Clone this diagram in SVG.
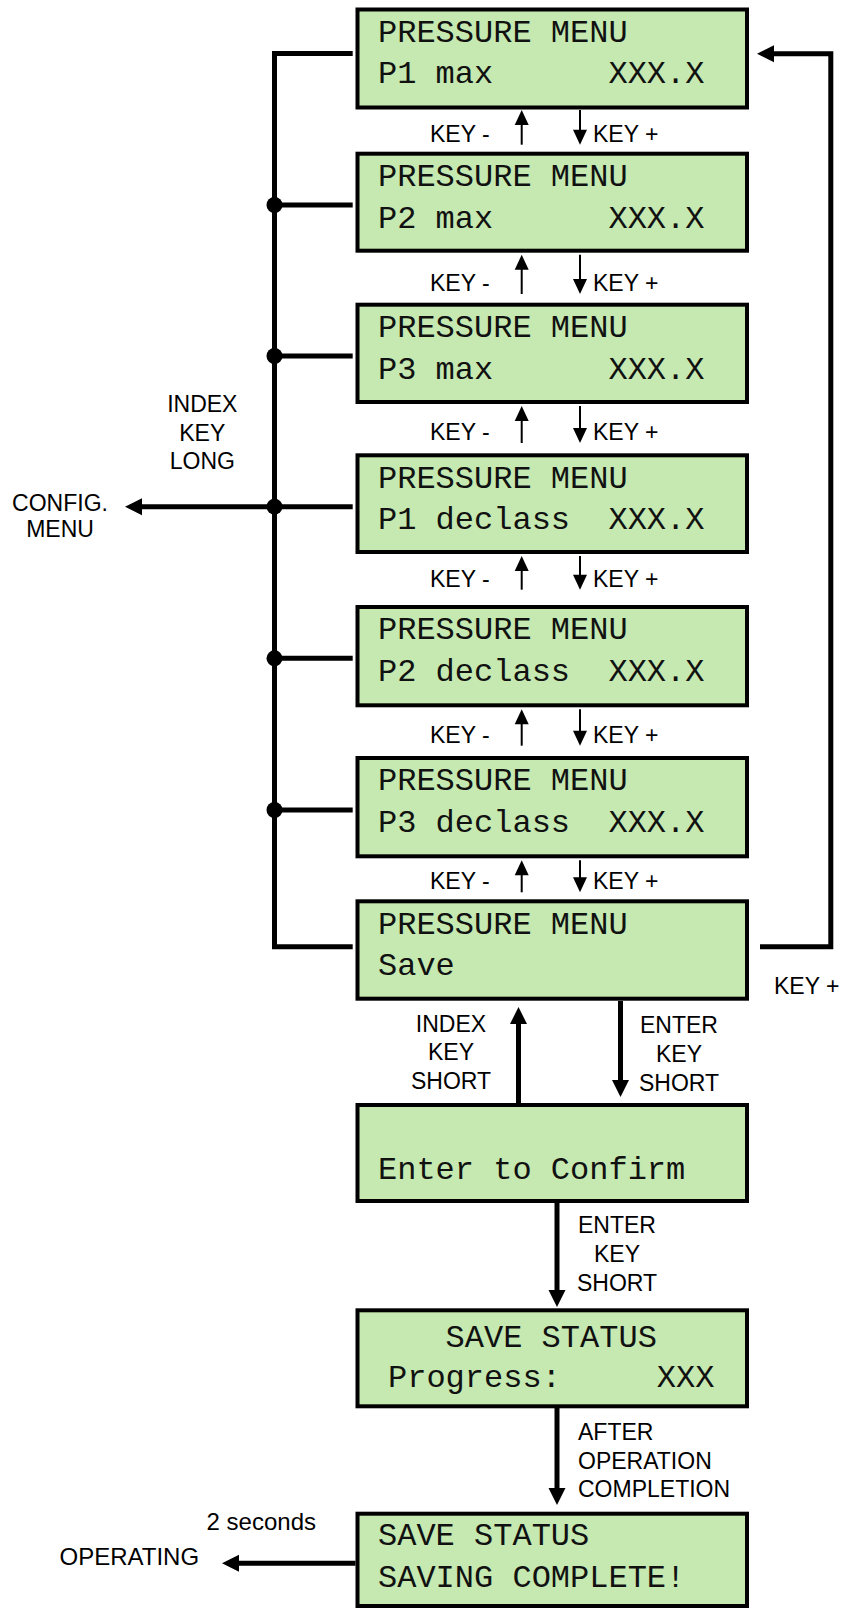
<svg xmlns="http://www.w3.org/2000/svg" width="844" height="1610" viewBox="0 0 844 1610" xml:space="preserve">
<style>
.box{fill:#C5E9B0;stroke:#000;stroke-width:4}
.lcd{font-family:"Liberation Mono","Courier New",monospace;font-size:32px;fill:#111;white-space:pre}
.lbl{font-family:"Liberation Sans",Arial,sans-serif;font-size:23px;fill:#000}
.big{font-size:24px}
.mid{text-anchor:middle}
.thick{stroke:#000;stroke-width:5;fill:none;stroke-linejoin:miter}
.thin{stroke:#000;stroke-width:2;fill:none}
.dot{fill:#000}
</style>
<defs>
<marker id="sm" markerUnits="userSpaceOnUse" markerWidth="16" markerHeight="16" refX="1" refY="7" orient="auto" overflow="visible"><path d="M0,0 L15,7 L0,14 z" fill="#000"/></marker>
<marker id="lg" markerUnits="userSpaceOnUse" markerWidth="20" markerHeight="20" refX="1" refY="8.5" orient="auto" overflow="visible"><path d="M0,0 L17,8.5 L0,17 z" fill="#000"/></marker>
</defs>
<rect width="844" height="1610" fill="#fff"/>

<g id="connectors">
<path class="thick" d="M352.7,53.5 H274.5 V946.7 H352.7"/>
<path class="thick" d="M274.5,205 H352.7 M274.5,356 H352.7 M274.5,658.3 H352.7 M274.5,810 H352.7"/>
<path class="thick" d="M352.7,506.7 H141" marker-end="url(#lg)"/>
<circle class="dot" cx="274.5" cy="205" r="8"/>
<circle class="dot" cx="274.5" cy="356" r="8"/>
<circle class="dot" cx="274.5" cy="506.7" r="8"/>
<circle class="dot" cx="274.5" cy="658.3" r="8"/>
<circle class="dot" cx="274.5" cy="810" r="8"/>
<path class="thick" d="M760,946.7 H830.8 V53.8 H773" marker-end="url(#lg)"/>

<path class="thin" d="M521.7,144.7 V124" marker-end="url(#sm)"/>
<path class="thin" d="M580,110 V130.7" marker-end="url(#sm)"/>
<path class="thin" d="M521.7,294 V268.7" marker-end="url(#sm)"/>
<path class="thin" d="M580,254.7 V280" marker-end="url(#sm)"/>
<path class="thin" d="M521.7,443 V420" marker-end="url(#sm)"/>
<path class="thin" d="M580,406 V429" marker-end="url(#sm)"/>
<path class="thin" d="M521.7,589.7 V570" marker-end="url(#sm)"/>
<path class="thin" d="M580,556 V575.7" marker-end="url(#sm)"/>
<path class="thin" d="M521.7,745.7 V723.3" marker-end="url(#sm)"/>
<path class="thin" d="M580,709.3 V731.7" marker-end="url(#sm)"/>
<path class="thin" d="M521.7,892.3 V874.3" marker-end="url(#sm)"/>
<path class="thin" d="M580,860.3 V878.3" marker-end="url(#sm)"/>

<path class="thick" d="M518.5,1103 V1023" marker-end="url(#lg)"/>
<path class="thick" d="M620.5,1001 V1081" marker-end="url(#lg)"/>
<path class="thick" d="M557,1203 V1291" marker-end="url(#lg)"/>
<path class="thick" d="M557,1408 V1489" marker-end="url(#lg)"/>
<path class="thick" d="M355.5,1563.3 H238" marker-end="url(#lg)"/>

<g id="labels">
<text class="lbl" x="430" y="141.7">KEY -</text><text class="lbl" x="593" y="141.7">KEY +</text>
<text class="lbl" x="430" y="291">KEY -</text><text class="lbl" x="593" y="291">KEY +</text>
<text class="lbl" x="430" y="440">KEY -</text><text class="lbl" x="593" y="440">KEY +</text>
<text class="lbl" x="430" y="586.7">KEY -</text><text class="lbl" x="593" y="586.7">KEY +</text>
<text class="lbl" x="430" y="742.7">KEY -</text><text class="lbl" x="593" y="742.7">KEY +</text>
<text class="lbl" x="430" y="889.3">KEY -</text><text class="lbl" x="593" y="889.3">KEY +</text>
<text class="lbl" x="774" y="993.5">KEY +</text>
<text class="lbl mid" x="202.3" y="412">INDEX</text>
<text class="lbl mid" x="202.3" y="440.5">KEY</text>
<text class="lbl mid" x="202.3" y="469">LONG</text>
<text class="lbl mid" x="60" y="510.7">CONFIG.</text>
<text class="lbl mid" x="60" y="536.7">MENU</text>
<text class="lbl mid" x="451" y="1031.7">INDEX</text>
<text class="lbl mid" x="451" y="1060">KEY</text>
<text class="lbl mid" x="451" y="1089.3">SHORT</text>
<text class="lbl mid" x="679" y="1033.3">ENTER</text>
<text class="lbl mid" x="679" y="1062">KEY</text>
<text class="lbl mid" x="679" y="1090.7">SHORT</text>
<text class="lbl mid" x="617" y="1233">ENTER</text>
<text class="lbl mid" x="617" y="1262">KEY</text>
<text class="lbl mid" x="617" y="1290.5">SHORT</text>
<text class="lbl" x="578" y="1440">AFTER</text>
<text class="lbl" x="578" y="1468.5">OPERATION</text>
<text class="lbl" x="578" y="1497">COMPLETION</text>
<text class="lbl big mid" x="261.3" y="1530">2 seconds</text>
<text class="lbl big mid" x="129.3" y="1565">OPERATING</text>
</g>
</g>

<g id="p1max"><rect class="box" x="357.5" y="9.5" width="389.5" height="98"/>
<text class="lcd" x="378" y="41.5">PRESSURE MENU</text><text class="lcd" x="378" y="83.3">P1 max      XXX.X</text></g>
<g id="p2max"><rect class="box" x="357.5" y="153.7" width="389.5" height="97"/>
<text class="lcd" x="378" y="185.9">PRESSURE MENU</text><text class="lcd" x="378" y="227.5">P2 max      XXX.X</text></g>
<g id="p3max"><rect class="box" x="357.5" y="304.7" width="389.5" height="97.3"/>
<text class="lcd" x="378" y="336.9">PRESSURE MENU</text><text class="lcd" x="378" y="378.5">P3 max      XXX.X</text></g>
<g id="p1declass"><rect class="box" x="357.5" y="455.3" width="389.5" height="96.7"/>
<text class="lcd" x="378" y="487.5">PRESSURE MENU</text><text class="lcd" x="378" y="529.1">P1 declass  XXX.X</text></g>
<g id="p2declass"><rect class="box" x="357.5" y="607" width="389.5" height="98.3"/>
<text class="lcd" x="378" y="639.2">PRESSURE MENU</text><text class="lcd" x="378" y="680.8">P2 declass  XXX.X</text></g>
<g id="p3declass"><rect class="box" x="357.5" y="758" width="389.5" height="98.3"/>
<text class="lcd" x="378" y="790.2">PRESSURE MENU</text><text class="lcd" x="378" y="831.8">P3 declass  XXX.X</text></g>
<g id="save"><rect class="box" x="357.5" y="901.3" width="389.5" height="97.4"/>
<text class="lcd" x="378" y="933.5">PRESSURE MENU</text><text class="lcd" x="378" y="975.1">Save</text></g>
<g id="confirm"><rect class="box" x="357.5" y="1105" width="389.5" height="96"/>
<text class="lcd" x="378" y="1178.5">Enter to Confirm</text></g>
<g id="savestatus"><rect class="box" x="357.5" y="1310.3" width="389.5" height="96"/>
<text class="lcd" x="445.6" y="1347">SAVE STATUS</text><text class="lcd" x="388" y="1386.5">Progress:     XXX</text></g>
<g id="savecomplete"><rect class="box" x="357.5" y="1513.7" width="389.5" height="92.3"/>
<text class="lcd" x="378" y="1545">SAVE STATUS</text><text class="lcd" x="378" y="1587">SAVING COMPLETE!</text></g>
</svg>
